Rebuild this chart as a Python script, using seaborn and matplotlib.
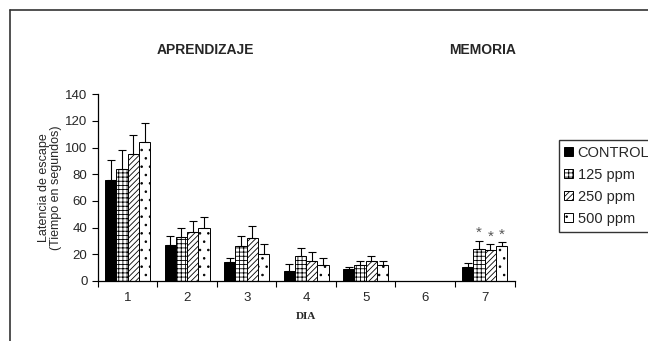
import pandas as pd
import matplotlib
matplotlib.use('Agg')
from matplotlib import pyplot as plt
from matplotlib.patches import Patch
from matplotlib.lines import Line2D
import seaborn as sns

days = ['1', '2', '3', '4', '5', '6', '7']
groups = ['CONTROL', '125 ppm', '250 ppm', '500 ppm']
# mean latency per group (day 6 has no data)
control = [76, 27, 14, 7.5, 9, None, 10.5]
ppm125 = [84, 33, 26, 19, 12, None, 24]
ppm250 = [95, 37, 32, 15, 15, None, 23]
ppm500 = [104, 40, 20, 12, 12, None, 26.5]
# upper error (SEM)
control_err = [15, 7, 3.5, 5.5, 1.7, None, 3]
ppm125_err = [14, 7, 8, 6, 3, None, 6]
ppm250_err = [14, 8, 9, 7, 3.5, None, 4.5]
ppm500_err = [14, 8, 8, 5, 3, None, 2.5]
star_groups = ['125 ppm', '250 ppm', '500 ppm']

hatches = {'CONTROL': '', '125 ppm': '++++', '250 ppm': '//////', '500 ppm': '..'}
faces = {'CONTROL': 'black', '125 ppm': 'white', '250 ppm': 'white', '500 ppm': 'white'}

rows = []
for g, vals, errs in zip(groups, [control, ppm125, ppm250, ppm500],
                         [control_err, ppm125_err, ppm250_err, ppm500_err]):
    for d, v, e in zip(days, vals, errs):
        if v is not None:
            rows.append({'dia': d, 'grupo': g, 'lat': v, 'err': e})
df = pd.DataFrame(rows)

sns.set_style('white')
plt.rcParams['font.family'] = ['Liberation Sans', 'DejaVu Sans']
plt.rcParams['hatch.linewidth'] = 0.6

fig = plt.figure(figsize=(6.48, 3.41), dpi=100)
ax = fig.add_axes([0.151, 0.176, 0.643, 0.548])

sns.barplot(data=df, x='dia', y='lat', hue='grupo', order=days, hue_order=groups,
            errorbar=None, width=0.76, ax=ax, legend=False,
            palette=['black', 'white', 'white', 'white'])

for g, cont in zip(groups, ax.containers):
    sub = df[df.grupo == g].set_index('dia')
    xs, ys, es = [], [], []
    for bar in cont:
        bar.set_edgecolor('black')
        bar.set_linewidth(0.7)
        bar.set_hatch(hatches[g])
        bar.set_facecolor(faces[g])
        cx = bar.get_x() + bar.get_width() / 2
        d = days[int(round(cx))]
        if d in sub.index:
            xs.append(cx)
            ys.append(sub.loc[d, 'lat'])
            es.append(sub.loc[d, 'err'])
            if g in star_groups and d == '7':
                ax.text(cx, sub.loc[d, 'lat'] + sub.loc[d, 'err'] + 0.5, '*',
                        ha='center', va='bottom', fontsize=11, color='#555555')
    ax.errorbar(xs, ys, yerr=[[0] * len(es), es], fmt='none', ecolor='black',
                elinewidth=0.8, capsize=3, capthick=0.8)

ax.set_ylim(0, 140)
ax.set_xlim(-0.5, 6.5)
ax.set_yticks(range(0, 141, 20))
ax.set_xticks(range(7))
ax.set_xticklabels(days)
ax.set_xticks([i + 0.5 for i in range(-1, 7)], minor=True)
ax.tick_params(axis='x', which='major', length=0, labelsize=9.5, pad=8)
ax.tick_params(axis='x', which='minor', length=4, width=0.8, color='black', direction='out')
ax.tick_params(axis='y', length=4, width=0.8, color='black', direction='out', labelsize=9.5)
ax.tick_params(axis='y', left=True)
ax.tick_params(axis='x', which='minor', bottom=True)
sns.despine(ax=ax)
for s in ['left', 'bottom']:
    ax.spines[s].set_color('black')
    ax.spines[s].set_linewidth(0.9)

ax.set_xlabel('DIA', family='Liberation Serif', fontweight='bold', fontsize=8, labelpad=6)
ax.set_ylabel('Latencia de escape\n(Tiempo en segundos)', fontsize=9, labelpad=2,
              linespacing=1.0)

fig.text(0.317, 0.853, 'APRENDIZAJE', ha='center', va='center', fontweight='bold', fontsize=10)
fig.text(0.745, 0.853, 'MEMORIA', ha='center', va='center', fontweight='bold', fontsize=10)

handles = [Patch(facecolor=faces[g], edgecolor='black', hatch=hatches[g], linewidth=0.7)
           for g in groups]
fig.legend(handles, groups, loc='upper left', bbox_to_anchor=(0.862, 0.59),
           frameon=True, fancybox=False, edgecolor='black', fontsize=10.5,
           handlelength=0.6, handleheight=0.6, handletextpad=0.3,
           labelspacing=0.55, borderpad=0.4, borderaxespad=0)

fig.add_artist(Line2D([10 / 648, 10 / 648], [0, 1 - 10 / 341], color='#333333', lw=1.2))
fig.add_artist(Line2D([10 / 648, 1], [1 - 10 / 341, 1 - 10 / 341], color='#333333', lw=1.2))

fig.savefig('out.png', dpi=100)
